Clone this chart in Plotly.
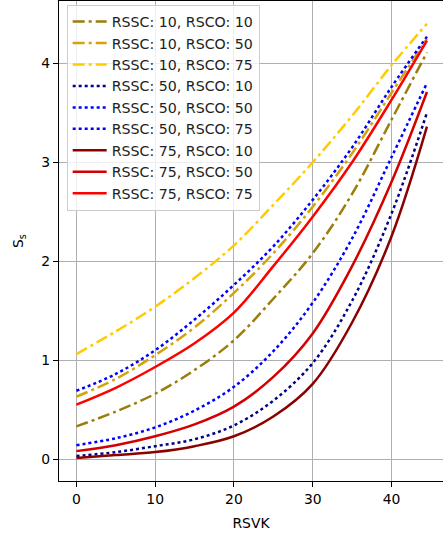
import plotly.graph_objects as go

rsvk = [0, 5, 10, 15, 20, 25, 30, 35, 40, 44.5]

names = ["RSSC: 10, RSCO: 10", "RSSC: 10, RSCO: 50", "RSSC: 10, RSCO: 75",
         "RSSC: 50, RSCO: 10", "RSSC: 50, RSCO: 50", "RSSC: 50, RSCO: 75",
         "RSSC: 75, RSCO: 10", "RSSC: 75, RSCO: 50", "RSSC: 75, RSCO: 75"]

s_10_10 = [0.33, 0.48, 0.66, 0.90, 1.20, 1.62, 2.08, 2.68, 3.43, 4.11]
s_10_50 = [0.63, 0.81, 1.05, 1.33, 1.68, 2.08, 2.55, 3.09, 3.70, 4.25]
s_10_75 = [1.06, 1.29, 1.54, 1.83, 2.16, 2.57, 3.00, 3.47, 3.98, 4.40]
s_50_10 = [0.03, 0.07, 0.13, 0.20, 0.34, 0.59, 0.97, 1.60, 2.48, 3.50]
s_50_50 = [0.14, 0.21, 0.32, 0.49, 0.73, 1.09, 1.58, 2.23, 3.05, 3.80]
s_50_75 = [0.69, 0.86, 1.10, 1.41, 1.76, 2.15, 2.62, 3.15, 3.76, 4.27]
s_75_10 = [0.01, 0.04, 0.07, 0.13, 0.23, 0.43, 0.76, 1.38, 2.25, 3.36]
s_75_50 = [0.08, 0.14, 0.23, 0.35, 0.53, 0.83, 1.27, 1.95, 2.80, 3.71]
s_75_75 = [0.55, 0.72, 0.93, 1.17, 1.48, 1.95, 2.45, 3.00, 3.63, 4.23]

series = [s_10_10, s_10_50, s_10_75, s_50_10, s_50_50, s_50_75, s_75_10, s_75_50, s_75_75]
colors = ["#9B7D0A", "#D4A20A", "#FFCC00",
          "#00008B", "#0000FF", "#0000FF",
          "#8B0000", "#D40000", "#FF0000"]
dashdot = "12px,4px,3px,4px"
dotted = "3px,3px"
dashes = [dashdot, dashdot, dashdot, dotted, dotted, dotted, "solid", "solid", "solid"]

fig = go.Figure()
for i, (nm, ys) in enumerate(zip(names, series)):
    fig.add_trace(go.Scatter(
        x=rsvk, y=ys, mode="lines", name=nm, legendgroup=str(i),
        line=dict(color=colors[i], width=2.5, dash=dashes[i], shape="spline", smoothing=1.0),
    ))

font = dict(family="DejaVu Sans", size=13.9, color="black")
fig.update_layout(
    width=443, height=536,
    margin=dict(l=59, r=0, t=1, b=55),
    plot_bgcolor="white", paper_bgcolor="white",
    font=font,
    showlegend=True,
    legend=dict(x=0.02, y=0.992, xanchor="left", yanchor="top",
                bgcolor="rgba(255,255,255,0.8)", bordercolor="#cccccc", borderwidth=1,
                font=dict(family="DejaVu Sans", size=14.2, color="#222"),
                tracegroupgap=0, itemwidth=34),
    xaxis=dict(range=[-2.21, 46.54], tickvals=[0, 10, 20, 30, 40],
               showgrid=True, gridcolor="#b0b0b0", gridwidth=1.1,
               showline=True, linecolor="black", linewidth=1.1, mirror=True,
               ticks="outside", ticklen=5, tickcolor="black", zeroline=False,
               automargin=False,
               title=dict(text="RSVK", font=font, standoff=12)),
    yaxis=dict(range=[-0.222, 4.63], tickvals=[0, 1, 2, 3, 4],
               showgrid=True, gridcolor="#b0b0b0", gridwidth=1.1,
               showline=True, linecolor="black", linewidth=1.1,
               ticks="outside", ticklen=5, tickcolor="black", zeroline=False,
               automargin=False,
               title=dict(text="S<sub>s</sub>", font=font, standoff=14)),
)

fig.write_html("out.html", config={"displayModeBar": False},
               post_script="document.body.style.margin='0';")
